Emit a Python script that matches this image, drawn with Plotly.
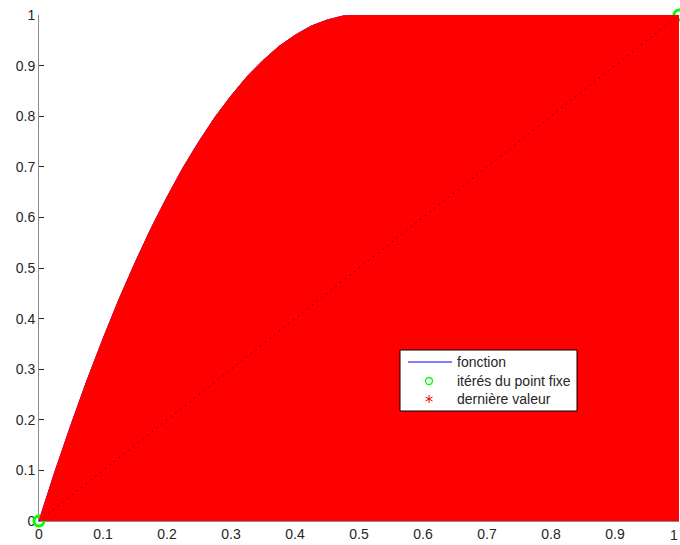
import plotly.graph_objects as go

# Function f(x) = 4x(1-x), sampled along [0, 1]
fonction_x = [0.0, 0.025, 0.05, 0.075, 0.1, 0.125, 0.15, 0.175, 0.2, 0.225, 0.25,
              0.275, 0.3, 0.325, 0.35, 0.375, 0.4, 0.425, 0.45, 0.475, 0.5,
              0.525, 0.55, 0.575, 0.6, 0.625, 0.65, 0.675, 0.7, 0.725, 0.75,
              0.775, 0.8, 0.825, 0.85, 0.875, 0.9, 0.925, 0.95, 0.975, 1.0]
fonction_y = [0.0, 0.098, 0.19, 0.278, 0.36, 0.438, 0.51, 0.578, 0.64, 0.698, 0.75,
              0.798, 0.84, 0.878, 0.91, 0.938, 0.96, 0.978, 0.99, 0.998, 1.0,
              0.998, 0.99, 0.978, 0.96, 0.938, 0.91, 0.878, 0.84, 0.798, 0.75,
              0.698, 0.64, 0.578, 0.51, 0.438, 0.36, 0.278, 0.19, 0.098, 0.0]

# Fixed-point iterates that remain visible, and the last value
iteres_x = [0.0, 1.0]
iteres_y = [0.0, 1.0]
derniere_x = [0.75]
derniere_y = [0.75]

# Diagonal y = x
diag_x = [0.0, 1.0]
diag_y = [0.0, 1.0]

# Legend entries
legend_labels = ["fonction", "itérés du point fixe", "dernière valeur"]

tick_vals = [0, 0.1, 0.2, 0.3, 0.4, 0.5, 0.6, 0.7, 0.8, 0.9, 1]
tick_text = ["0", "0.1", "0.2", "0.3", "0.4", "0.5", "0.6", "0.7", "0.8", "0.9", "1"]

# Upper envelope of the cobweb iterations: f(x) up to its maximum, then y = 1
env_x = [x for x in fonction_x if x <= 0.5] + [1.0]
env_y = [y for x, y in zip(fonction_x, fonction_y) if x <= 0.5] + [1.0]

FONT = "Liberation Sans, Arial, sans-serif"
TXT = "#262626"

fig = go.Figure()

fig.add_trace(go.Scatter(x=fonction_x, y=fonction_y, mode="lines",
                         line=dict(color="#0000ff", width=1), name=legend_labels[0]))
fig.add_trace(go.Scatter(x=iteres_x, y=iteres_y, mode="markers", cliponaxis=False,
                         marker=dict(symbol="circle-open", size=10, color="#00ff00",
                                     line=dict(width=3, color="#00ff00")),
                         name=legend_labels[1]))
fig.add_trace(go.Scatter(x=derniere_x, y=derniere_y, mode="markers",
                         marker=dict(symbol="asterisk-open", size=8, color="#ff0000",
                                     line=dict(width=1, color="#ff0000")),
                         name=legend_labels[2]))
# Cobweb iterations, filling the region under the envelope
fig.add_trace(go.Scatter(x=env_x, y=env_y, mode="lines", fill="tozeroy",
                         fillcolor="#ff0000", line=dict(color="#ff0000", width=1),
                         hoverinfo="skip"))
fig.add_trace(go.Scatter(x=diag_x, y=diag_y, mode="lines",
                         line=dict(color="#000000", width=1, dash="1px,5px"),
                         hoverinfo="skip"))

# Legend box, drawn in paper coordinates (axes span the full plot area)
def px_x(p):
    return (p - 39) / 640.0

def px_y(p):
    return (521 - p) / 506.0

box_l, box_r, box_t, box_b = 400, 577, 350, 411
row_y = [362, 381, 399]
sym_l, sym_r, sym_c, text_l = 408, 452, 429, 455

shapes = [
    dict(type="rect", xref="paper", yref="paper",
         x0=px_x(box_l), x1=px_x(box_r), y0=px_y(box_b), y1=px_y(box_t),
         line=dict(color="#000000", width=1), fillcolor="white", layer="above"),
    dict(type="line", xref="paper", yref="paper",
         x0=px_x(sym_l), x1=px_x(sym_r), y0=px_y(row_y[0]), y1=px_y(row_y[0]),
         line=dict(color="#0000ff", width=1), layer="above"),
    dict(type="circle", xref="paper", yref="paper",
         x0=px_x(sym_c - 3.5), x1=px_x(sym_c + 3.5),
         y0=px_y(row_y[1] + 3.5), y1=px_y(row_y[1] - 3.5),
         line=dict(color="#00ff00", width=1.3), layer="above"),
]
# Asterisk symbol: three short strokes
for (dx, dy) in [(0, 4), (3.5, 2), (3.5, -2)]:
    shapes.append(dict(type="line", xref="paper", yref="paper",
                       x0=px_x(sym_c - dx), x1=px_x(sym_c + dx),
                       y0=px_y(row_y[2] - dy), y1=px_y(row_y[2] + dy),
                       line=dict(color="#ff0000", width=1), layer="above"))

annotations = [
    dict(xref="paper", yref="paper", x=px_x(text_l), y=px_y(ry), text=lab,
         showarrow=False, xanchor="left", yanchor="middle",
         font=dict(family=FONT, size=14, color=TXT))
    for ry, lab in zip(row_y, legend_labels)
]
# Last x tick label sits against the figure's right edge
annotations.append(dict(xref="x", yref="paper", x=tick_vals[-1], y=0, yshift=-4,
                        xshift=1, text=tick_text[-1], showarrow=False,
                        xanchor="right", yanchor="top",
                        font=dict(family=FONT, size=14, color=TXT)))

axis_style = dict(range=[0, 1], showgrid=False, zeroline=False, showline=True,
                  linecolor="#8c8c8c", linewidth=1, ticks="inside", ticklen=5,
                  tickcolor=TXT, tickfont=dict(family=FONT, size=14, color=TXT),
                  layer="below traces", fixedrange=True)

fig.update_layout(
    width=680, height=545,
    margin=dict(l=39, r=1, t=15, b=24),
    paper_bgcolor="white", plot_bgcolor="white",
    xaxis=dict(**axis_style, tickvals=tick_vals[:-1], ticktext=tick_text[:-1]),
    yaxis=dict(**axis_style, tickvals=tick_vals, ticktext=tick_text),
    shapes=shapes, annotations=annotations,
    showlegend=False,
)

fig.write_html("out.html")
